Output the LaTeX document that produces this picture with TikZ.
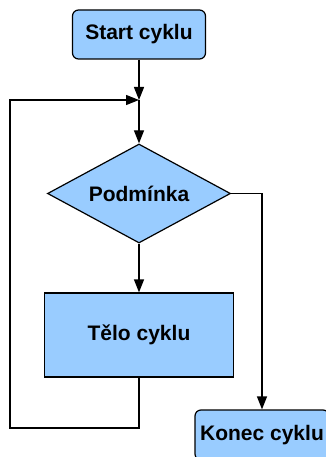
\documentclass[tikz,border=0pt]{standalone}
\usepackage{fontspec}
\setmainfont{Liberation Sans}
\usetikzlibrary{arrows.meta,shapes.geometric}
\definecolor{boxblue}{HTML}{99CCFF}
\begin{document}
\begin{tikzpicture}[x=1pt,y=-1pt,
  every node/.style={font=\fontsize{21}{24}\selectfont\bfseries},
  box/.style={draw=black,line width=1.2pt,fill=boxblue,inner sep=0pt},
  rbox/.style={box,rounded corners=6pt},
  conn/.style={draw=black,line width=1.2pt},
  arr/.style={conn,-{Triangle[length=13pt,width=10pt]}}]
\useasboundingbox (0,0) rectangle (326,457);
\node[rbox,minimum width=133pt,minimum height=49pt] (start) at (139,34.5) {Start cyklu};
\node[box,diamond,minimum width=183pt,minimum height=99pt,aspect=1.85] (cond) at (139,193.5) {};
\node at (cond.center) {Podmínka};
\node[box,minimum width=189pt,minimum height=84pt] (body) at (139,335) {Tělo cyklu};
\node[rbox,minimum width=134pt,minimum height=50pt] (end) at (262,435) {Konec cyklu};
\coordinate (j) at (139,100);
\coordinate (bl) at (10,428);
\draw[arr] (start.south) -- (j);
\draw[arr] (j) -- (cond.north);
\draw[arr] (cond.south) -- (body.north);
\draw[arr] (body.south) -- (body.south |- bl) -- (bl) -- (bl |- j) -- (j);
\draw[arr] (cond.east) -| (end.north);
\end{tikzpicture}
\end{document}
